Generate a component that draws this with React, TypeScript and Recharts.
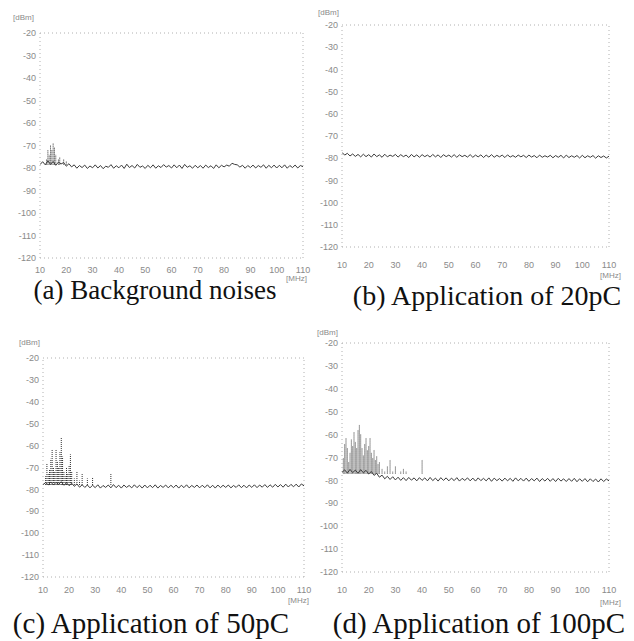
import { ComposedChart, Line, Scatter, ErrorBar, XAxis, YAxis, ReferenceLine } from "recharts";

// frequency grid [MHz]
const freqs = [
  10, 11, 12, 13, 14, 15, 16, 17, 18, 19, 20, 21, 22, 23, 24, 25, 26, 27, 28, 29,
  30, 31, 32, 33, 34, 35, 36, 37, 38, 39, 40, 41, 42, 43, 44, 45, 46, 47, 48, 49,
  50, 51, 52, 53, 54, 55, 56, 57, 58, 59, 60, 61, 62, 63, 64, 65, 66, 67, 68, 69,
  70, 71, 72, 73, 74, 75, 76, 77, 78, 79, 80, 81, 82, 83, 84, 85, 86, 87, 88, 89,
  90, 91, 92, 93, 94, 95, 96, 97, 98, 99, 100, 101, 102, 103, 104, 105, 106, 107, 108, 109,
  110,
];

const yTicks = [-20, -30, -40, -50, -60, -70, -80, -90, -100, -110, -120];
const xTicks = [10, 20, 30, 40, 50, 60, 70, 80, 90, 100, 110];

// (a) background noise
const traceA = [
  -78.5, -77.2, -78.6, -76.8, -78.4, -77.1, -78.8, -77.4, -78.2, -77.6,
  -79.2, -78.1, -79.5, -78.6, -80.1, -78.9, -79.8, -78.7, -80.2, -79.1,
  -79.9, -78.6, -80, -78.9, -80.3, -79.2, -79.7, -78.5, -80.1, -79,
  -79.9, -78.7, -80.2, -78.3, -79.8, -78.9, -80, -78.4, -79.7, -79.1,
  -80.2, -78.8, -79.9, -78.6, -80.1, -79, -79.8, -78.5, -79.6, -78.9,
  -80, -78.6, -79.9, -78.7, -80.2, -78.4, -79.7, -79, -80.1, -78.8,
  -79.9, -78.9, -80.1, -78.7, -79.8, -79, -80.2, -78.6, -79.9, -78.8,
  -79.5, -78.7, -79.2, -77.9, -78.4, -78.6, -79.6, -78.8, -80.1, -78.9,
  -79.8, -78.7, -80, -78.9, -79.7, -78.6, -80.1, -78.8, -79.9, -78.7,
  -80, -78.8, -79.9, -78.6, -80.1, -78.9, -79.8, -78.7, -80, -78.9,
  -79.4,
];
const spikeFA = [12.5, 13, 13.5, 14, 14.5, 15, 15.5, 16, 17, 17.5, 19, 20];
const spikeTopA = [-76, -72, -74, -70, -72, -69, -71, -74, -76, -75, -76, -77];

// (b) 20pC
const traceB = [
  -77.4, -78.6, -77.8, -79, -78.1, -79.2, -78.3, -79.4, -78.2, -79.3,
  -78.4, -79.5, -78.1, -79.3, -78.5, -79.6, -78.2, -79.4, -78.6, -79.2,
  -78.3, -79.5, -78.4, -79.3, -78.6, -79.7, -78.3, -79.4, -78.5, -79.6,
  -78.4, -79.3, -78.6, -79.5, -78.3, -79.4, -78.5, -79.7, -78.4, -79.3,
  -78.6, -79.5, -78.4, -79.6, -78.5, -79.3, -78.7, -79.5, -78.4, -79.6,
  -78.6, -79.4, -78.5, -79.7, -78.6, -79.5, -78.4, -79.6, -78.7, -79.4,
  -78.6, -79.7, -78.5, -79.5, -78.8, -79.6, -78.6, -79.4, -78.7, -79.7,
  -78.6, -79.5, -78.8, -79.8, -78.6, -79.6, -78.9, -79.5, -78.7, -79.8,
  -78.8, -79.6, -78.7, -79.9, -78.6, -79.7, -78.9, -79.6, -78.8, -79.9,
  -78.7, -79.8, -78.9, -79.6, -78.8, -80, -78.9, -79.7, -79, -79.9,
  -79.1,
];
const spikeFB: number[] = [];
const spikeTopB: number[] = [];

// (c) 50pC
const traceC = [
  -77.8, -76.9, -77.9, -76.6, -78, -76.8, -77.7, -76.5, -78.1, -77,
  -78.3, -77.2, -78.6, -77.5, -79, -77.9, -79.1, -78, -79.3, -78.1,
  -79.2, -77.9, -79.4, -78.2, -79.1, -78, -79.3, -77.8, -79.2, -78.1,
  -79.4, -78, -79.1, -78.2, -79.3, -77.9, -79.2, -78.1, -79.4, -78,
  -79.3, -78.1, -79.2, -77.9, -79.4, -78.2, -79.1, -78, -79.3, -78.1,
  -79.2, -78, -79.4, -78.1, -79.2, -77.9, -79.3, -78.2, -79.1, -78,
  -79.3, -78.1, -79.2, -77.9, -79.3, -78.1, -79.4, -78, -79.2, -78.1,
  -79.1, -78, -79.3, -78.2, -79.1, -77.9, -79.2, -78.1, -79.3, -78,
  -79.1, -77.9, -79.2, -78, -79, -77.8, -79.1, -77.9, -79, -77.7,
  -78.9, -77.8, -79, -77.6, -78.9, -77.7, -78.8, -77.6, -78.9, -77.5,
  -78.4,
];
const spikeFC = [
  11, 11.5, 12, 12.5, 13, 13.5, 14, 14.5, 15, 15.5, 16, 16.5, 17, 17.5,
  18, 18.5, 19, 19.5, 20, 20.5, 21, 22, 23, 24, 25, 27, 29, 36,
];
const spikeTopC = [
  -74, -68, -73, -71, -66, -62, -70, -72, -62, -67, -70, -63, -56.5, -65,
  -72, -74, -70, -73, -69, -64, -72, -75, -72, -76, -73, -75, -74.5, -73,
];

// (d) 100pC
const traceD = [
  -76.5, -75.4, -76.8, -75.2, -76.6, -75.5, -76.9, -75.3, -76.7, -75.6,
  -77.2, -76.1, -77.8, -76.9, -78.6, -77.7, -79.3, -78.2, -79.6, -78.4,
  -79.8, -78.6, -80, -78.8, -80.1, -78.7, -79.9, -78.9, -80.2, -78.8,
  -80, -78.9, -80.2, -78.7, -80.1, -79, -80.3, -78.8, -80, -78.9,
  -80.2, -79, -80.1, -78.8, -80.3, -79.1, -80, -78.9, -80.2, -79,
  -80.3, -78.9, -80.1, -79.1, -80.2, -78.9, -80.4, -79, -80.1, -79.2,
  -80.3, -79, -80.2, -79.1, -80.4, -78.9, -80.2, -79.1, -80.3, -79,
  -80.4, -79.2, -80.2, -79, -80.5, -79.2, -80.3, -79.1, -80.4, -79.2,
  -80.5, -79.1, -80.3, -79.3, -80.5, -79.2, -80.4, -79.1, -80.6, -79.3,
  -80.4, -79.2, -80.6, -79.3, -80.5, -79.4, -80.7, -79.3, -80.5, -79.4,
  -80.2,
];
const spikeFD = [
  10.5, 11, 11.5, 12, 12.5, 13, 13.5, 14, 14.5, 15, 15.5, 16, 16.5, 17, 17.5,
  18, 18.5, 19, 19.5, 20, 20.5, 21, 21.5, 22, 22.5, 23, 23.5, 24, 25, 26,
  27, 28, 29, 30, 31, 32, 33, 34, 36, 40,
];
const spikeTopD = [
  -70, -64, -61.5, -66, -72, -68, -62, -65, -59, -63, -66, -58, -55.8, -60, -66,
  -69, -64, -61.5, -67, -65, -61.5, -68, -70, -66.7, -71, -69.6, -73, -72, -75, -76,
  -74, -71, -76, -74, -77, -76, -75, -76, -77, -71,
];

const tickStyle = { fontSize: 9, fill: "#8a8a8a", fontFamily: "Liberation Sans" };
const dotted = { stroke: "#b0b0b0", strokeDasharray: "1 3" };

interface IPanelProps {
  x0: number;
  x1: number;
  y0: number;
  y1: number;
  yLabelW: number;
  xGap: number;
  trace: number[];
  base: number;
  spikeF: number[];
  spikeTop: number[];
}

function Panel({ x0, x1, y0, y1, yLabelW, xGap, trace, base, spikeF, spikeTop }: IPanelProps) {
  const plotW = x1 - x0;
  const plotH = y1 - y0;
  const traceData = freqs.map((f, i) => ({ f, v: trace[i] }));
  const spikeData = spikeF.map((f, i) => ({ f, y: base, err: [0, spikeTop[i] - base] }));
  return (
    <div style={{ position: "absolute", left: x0 - yLabelW, top: y0 - 4 }}>
      <ComposedChart
        width={yLabelW + plotW + 12}
        height={4 + plotH + xGap + 10}
        margin={{ top: 4, right: 12, left: 0, bottom: 0 }}
      >
        <XAxis
          type="number"
          dataKey="f"
          domain={[10, 110]}
          ticks={xTicks}
          tick={tickStyle}
          axisLine={false}
          tickLine={false}
          tickSize={0}
          tickMargin={xGap - 3}
          height={xGap + 10}
          allowDataOverflow
        />
        <YAxis
          type="number"
          domain={[-120, -20]}
          ticks={yTicks}
          tick={tickStyle}
          axisLine={false}
          tickLine={false}
          tickSize={0}
          tickMargin={4}
          width={yLabelW}
          interval={0}
          allowDataOverflow
        />
        <ReferenceLine y={-20} {...dotted} />
        <ReferenceLine y={-120} {...dotted} />
        <ReferenceLine x={10} {...dotted} />
        <ReferenceLine x={110} {...dotted} />
        <Scatter data={spikeData} dataKey="y" shape={() => <g />} isAnimationActive={false}>
          <ErrorBar dataKey="err" direction="y" width={0} stroke="#2e2e2e" strokeWidth={1} strokeDasharray="1 1" isAnimationActive={false} />
        </Scatter>
        <Line
          data={traceData}
          dataKey="v"
          type="linear"
          stroke="#3c3c3c"
          strokeWidth={1}
          dot={false}
          isAnimationActive={false}
        />
      </ComposedChart>
    </div>
  );
}

const unitStyle = {
  position: "absolute" as const,
  fontSize: 8,
  color: "#8a8a8a",
  fontFamily: "Liberation Sans",
  lineHeight: "8px",
};
const captionStyle = {
  position: "absolute" as const,
  lineHeight: "24px",
  fontFamily: "Liberation Serif",
  color: "#111",
  whiteSpace: "nowrap" as const,
  transform: "translateX(-50%)",
};

export default function App() {
  return (
    <div style={{ position: "absolute", left: 0, top: 0, width: 634, height: 641, background: "#fff", overflow: "hidden" }}>
      <Panel x0={40} x1={303} y0={33} y1={258} yLabelW={40} xGap={12} trace={traceA} base={-78.5} spikeF={spikeFA} spikeTop={spikeTopA} />
      <Panel x0={342} x1={609} y0={25} y1={247} yLabelW={25} xGap={18} trace={traceB} base={-78.5} spikeF={spikeFB} spikeTop={spikeTopB} />
      <Panel x0={43} x1={304} y0={358} y1={577} yLabelW={43} xGap={13} trace={traceC} base={-78} spikeF={spikeFC} spikeTop={spikeTopC} />
      <Panel x0={342} x1={609} y0={343} y1={572} yLabelW={25} xGap={18} trace={traceD} base={-77} spikeF={spikeFD} spikeTop={spikeTopD} />

      <div style={{ ...unitStyle, left: 13, top: 14 }}>[dBm]</div>
      <div style={{ ...unitStyle, left: 318, top: 9 }}>[dBm]</div>
      <div style={{ ...unitStyle, left: 19, top: 339 }}>[dBm]</div>
      <div style={{ ...unitStyle, left: 317, top: 329 }}>[dBm]</div>
      <div style={{ ...unitStyle, left: 286, top: 275 }}>[MHz]</div>
      <div style={{ ...unitStyle, left: 600, top: 272 }}>[MHz]</div>
      <div style={{ ...unitStyle, left: 288, top: 597 }}>[MHz]</div>
      <div style={{ ...unitStyle, left: 600, top: 599 }}>[MHz]</div>

      <div style={{ ...captionStyle, fontSize: 27, left: 155, top: 278 }}>(a) Background noises</div>
      <div style={{ ...captionStyle, fontSize: 28, left: 487, top: 284 }}>(b) Application of 20pC</div>
      <div style={{ ...captionStyle, fontSize: 29, left: 151, top: 611 }}>(c) Application of 50pC</div>
      <div style={{ ...captionStyle, fontSize: 29, left: 479, top: 611 }}>(d) Application of 100pC</div>
    </div>
  );
}
